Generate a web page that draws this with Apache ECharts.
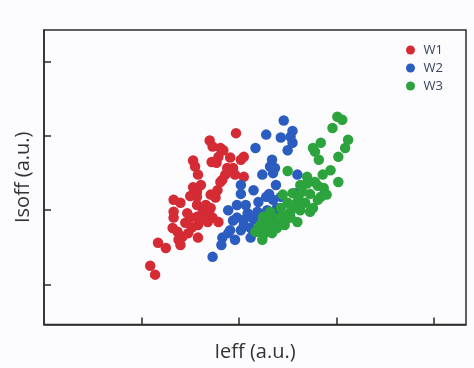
<!DOCTYPE html>
<html>
<head>
<meta charset="utf-8">
<script src="https://cdn.jsdelivr.net/npm/echarts@6/dist/echarts.min.js"></script>
<style>
  html, body { margin: 0; padding: 0; background: #fcfcfe; }
  #main { width: 474px; height: 368px; }
</style>
</head>
<body>
<div id="main"></div>
<script>
// 图例 / 系列名
const seriesNames = ["W1", "W2", "W3"];
const seriesColors = ["#d42b35", "#2b5cc0", "#2ca33c"];

// 坐标轴刻度位置 (a.u.)
const xTicks = [1, 2, 3, 4];
const yTicks = [1, 2, 3, 4];

// W1 (红)  [Ieff, Isoff]
const w1 = [
  [1.97, 3.04], [1.70, 2.94], [1.73, 2.86], [1.81, 2.84], [1.84, 2.81],
  [1.79, 2.72], [1.72, 2.65], [1.77, 2.64], [1.53, 2.67], [1.55, 2.59],
  [1.91, 2.71], [2.02, 2.68], [2.05, 2.72], [1.88, 2.57], [1.94, 2.57],
  [1.86, 2.48], [1.96, 2.48], [2.05, 2.45], [1.83, 2.41], [1.58, 2.48],
  [1.61, 2.34], [1.53, 2.31], [1.57, 2.25], [1.78, 2.27], [1.71, 2.21],
  [1.76, 2.17], [1.33, 2.14], [1.40, 2.10], [1.50, 2.19], [1.57, 2.18],
  [1.57, 2.07], [1.66, 2.07], [1.71, 2.03], [1.33, 1.98], [1.66, 2.00],
  [1.50, 1.90], [1.57, 1.91], [1.63, 1.98], [1.69, 1.96], [1.73, 1.90],
  [1.45, 1.83], [1.52, 1.77], [1.58, 1.80], [1.68, 1.84], [1.79, 1.84],
  [1.32, 1.76], [1.37, 1.71], [1.42, 1.64], [1.48, 1.69], [1.58, 1.63],
  [1.40, 1.53], [1.38, 1.60], [1.17, 1.56], [1.25, 1.49], [1.09, 1.25],
  [1.14, 1.13], [1.33, 1.90], [1.47, 1.96], [1.61, 1.87], [1.81, 2.38]
];

// W2 (蓝)
const w2 = [
  [2.46, 3.21], [2.55, 3.07], [2.53, 2.99], [2.28, 3.02], [2.43, 2.98],
  [2.55, 2.91], [2.50, 2.81], [2.17, 2.84], [2.34, 2.68], [2.32, 2.59],
  [2.37, 2.57], [2.24, 2.48], [2.35, 2.50], [2.60, 2.48], [2.02, 2.34],
  [2.15, 2.27], [2.38, 2.34], [2.58, 2.23], [2.02, 2.22], [2.31, 2.22],
  [1.89, 2.00], [1.98, 2.07], [2.07, 2.07], [2.20, 2.11], [2.28, 2.18],
  [2.35, 2.14], [2.43, 2.18], [1.98, 1.90], [2.09, 1.96], [2.19, 1.98],
  [2.29, 2.00], [2.39, 2.03], [1.94, 1.86], [2.05, 1.87], [2.15, 1.88],
  [2.25, 1.91], [2.35, 1.94], [1.91, 1.73], [2.02, 1.73], [2.12, 1.76],
  [2.22, 1.77], [2.05, 1.80], [1.83, 1.63], [1.82, 1.53], [1.73, 1.37],
  [1.89, 1.69], [1.96, 1.60], [2.12, 1.63], [2.27, 1.84], [2.17, 1.71]
];

// W3 (绿)
const w3 = [
  [3.01, 3.26], [3.06, 3.22], [2.96, 3.11], [3.12, 2.95], [3.09, 2.84],
  [3.02, 2.72], [2.84, 2.91], [2.78, 2.79], [2.82, 2.68], [2.76, 2.84],
  [2.50, 2.53], [2.94, 2.54], [2.86, 2.48], [2.70, 2.45], [3.02, 2.38],
  [2.78, 2.38], [2.63, 2.34], [2.70, 2.36], [2.81, 2.33], [2.87, 2.30],
  [2.55, 2.23], [2.65, 2.25], [2.73, 2.22], [2.84, 2.18], [2.45, 2.21],
  [2.50, 2.10], [2.60, 2.11], [2.68, 2.10], [2.81, 2.14], [2.73, 1.98],
  [2.63, 2.00], [2.53, 1.98], [2.60, 1.84], [2.25, 1.91], [2.35, 1.91],
  [2.45, 1.94], [2.22, 1.80], [2.32, 1.80], [2.41, 1.83], [2.25, 1.67],
  [2.34, 1.69], [2.24, 1.60], [2.17, 1.71], [2.30, 1.75], [2.39, 1.76],
  [2.48, 1.87], [2.53, 1.90], [2.55, 2.06], [2.43, 2.03], [2.32, 1.98],
  [2.27, 1.84], [2.20, 1.76], [2.76, 2.03], [2.90, 2.21], [2.61, 2.18],
  [2.47, 1.80]
];

const allData = [w1, w2, w3];

let myChart = echarts.init(document.getElementById("main"));

myChart.setOption({
  backgroundColor: "#fcfcfe",
  animation: false,
  grid: {
    left: 44,
    right: 8,
    top: 30,
    bottom: 43.5,
    show: true,
    borderColor: "#2b2b2b",
    borderWidth: 1.5,
    backgroundColor: "transparent"
  },
  legend: {
    data: seriesNames,
    orient: "vertical",
    left: 401,
    top: 38,
    icon: "circle",
    itemWidth: 16,
    itemHeight: 9,
    itemGap: 4,
    textStyle: {
      fontFamily: "Open Sans",
      fontSize: 13,
      lineHeight: 14,
      color: "#34425a"
    }
  },
  xAxis: {
    type: "value",
    min: 0,
    max: 4.33,
    name: "Ieff (a.u.)",
    nameLocation: "middle",
    nameGap: 18,
    nameTextStyle: {
      fontFamily: "Open Sans",
      fontSize: 20,
      color: "#333333"
    },
    axisLine: { show: true, lineStyle: { color: "#2b2b2b", width: 1.5 } },
    axisTick: {
      show: true,
      inside: true,
      length: 7,
      customValues: xTicks,
      lineStyle: { color: "#2b2b2b", width: 1.5 }
    },
    axisLabel: { show: false },
    splitLine: { show: false }
  },
  yAxis: {
    type: "value",
    min: 0.457,
    max: 4.432,
    name: "Isoff (a.u.)",
    nameLocation: "middle",
    nameGap: 11,
    nameTextStyle: {
      fontFamily: "Open Sans",
      fontSize: 20,
      color: "#333333"
    },
    axisLine: { show: true, lineStyle: { color: "#2b2b2b", width: 1.5 } },
    axisTick: {
      show: true,
      inside: true,
      length: 7,
      customValues: yTicks,
      lineStyle: { color: "#2b2b2b", width: 1.5 }
    },
    axisLabel: { show: false },
    splitLine: { show: false }
  },
  series: seriesNames.map(function (name, i) {
    return {
      name: name,
      type: "scatter",
      symbol: "circle",
      symbolSize: 10.5,
      data: allData[i],
      itemStyle: { color: seriesColors[i], opacity: 1 }
    };
  })
});
</script>
</body>
</html>
